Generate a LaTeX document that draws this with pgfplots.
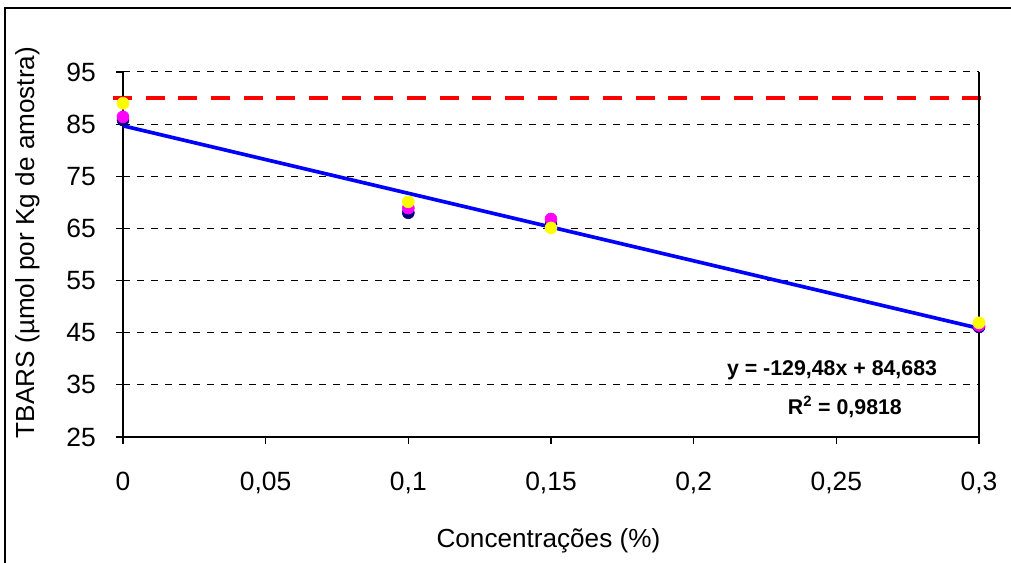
\documentclass[border=0pt]{standalone}
\usepackage{pgfplots}
\pgfplotsset{compat=1.18}
\usepackage{fontspec}
\setmainfont{Liberation Sans}
\usetikzlibrary{calc}
\definecolor{navyc}{RGB}{0,0,128}
\definecolor{magc}{RGB}{255,0,255}
\definecolor{yelc}{RGB}{255,255,0}
\definecolor{bluec}{RGB}{0,0,255}
\definecolor{redc}{RGB}{255,0,0}
\begin{document}
\begin{tikzpicture}
\begin{axis}[
  scale only axis, width=642pt, height=273.75pt,
  xmin=0, xmax=0.3, ymin=25, ymax=95,
  xtick={0,0.05,0.1,0.15,0.2,0.25,0.3},
  xticklabels={0,{0,05},{0,1},{0,15},{0,2},{0,25},{0,3}},
  ytick={25,35,45,55,65,75,85,95},
  /pgf/number format/assume math mode=true,
  axis x line*=bottom, axis y line*=left,
  axis line style={-, black, line width=0.8pt},
  tick align=outside, major tick length=5.25pt,
  tick style={black, line width=0.8pt},
  ymajorgrids,
  grid style={black, line width=0.75pt, dash pattern=on 5.25pt off 5.25pt},
  ticklabel style={font=\fontsize{19.8}{23}\selectfont},
  yticklabel style={anchor=east, inner sep=0pt, xshift=-15pt},
  xticklabel style={anchor=north, inner sep=0pt, yshift=-21pt},
  xlabel={Concentrações (\%)},
  ylabel={TBARS (µmol por Kg de amostra)},
  label style={font=\fontsize{19.6}{23}\selectfont},
  xlabel style={at={(axis description cs:0.497,-0.3041)}, anchor=base},
  ylabel style={at={(axis description cs:-0.0919,0.533)}, anchor=south, rotate=0},
  clip=false,
]
\addplot[only marks, mark=*, mark size=4.5pt, mark options={draw=navyc, fill=navyc}]
  coordinates {(0,85.8) (0.1,68.0) (0.15,65.8) (0.3,46.1)};
\addplot[only marks, mark=*, mark size=4.5pt, mark options={draw=magc, fill=magc}]
  coordinates {(0,86.4) (0.1,68.9) (0.15,66.8) (0.3,46.4)};
\addplot[only marks, mark=*, mark size=4.5pt, mark options={draw=yelc, fill=yelc}]
  coordinates {(0,89.0) (0.1,70.1) (0.15,65.1) (0.3,46.9)};
\addplot[redc, line width=3pt, dash pattern=on 14.25pt off 10.25pt, no markers]
  coordinates {(-0.0035,90) (0.3007,90)};
\addplot[bluec, line width=2.75pt, no markers]
  coordinates {(0,84.683) (0.3,45.839)};
\draw[black, line width=0.8pt] (rel axis cs:1,0) -- (rel axis cs:1,1);
\node[font=\bfseries\fontsize{16}{19}\selectfont] at (axis cs:0.2485,37.85) {y = -129,48x + 84,683};
\node[font=\bfseries\fontsize{16}{19}\selectfont] at (axis cs:0.2530,30.75) {R\textsuperscript{2} = 0,9818};
\coordinate (sw) at (rel axis cs:0,0);
\coordinate (ne) at (rel axis cs:1,1);
\end{axis}
\draw[black, line width=1pt] ($(sw)+(-88.5pt,-150pt)$) -- ($(sw|-ne)+(-88.5pt,48pt)$) -- ($(ne)+(100pt,48pt)$);
\pgfresetboundingbox
\path[use as bounding box] ($(sw)+(-92.25pt,-94.5pt)$) rectangle ($(ne)+(24pt,54pt)$);
\end{tikzpicture}
\end{document}
